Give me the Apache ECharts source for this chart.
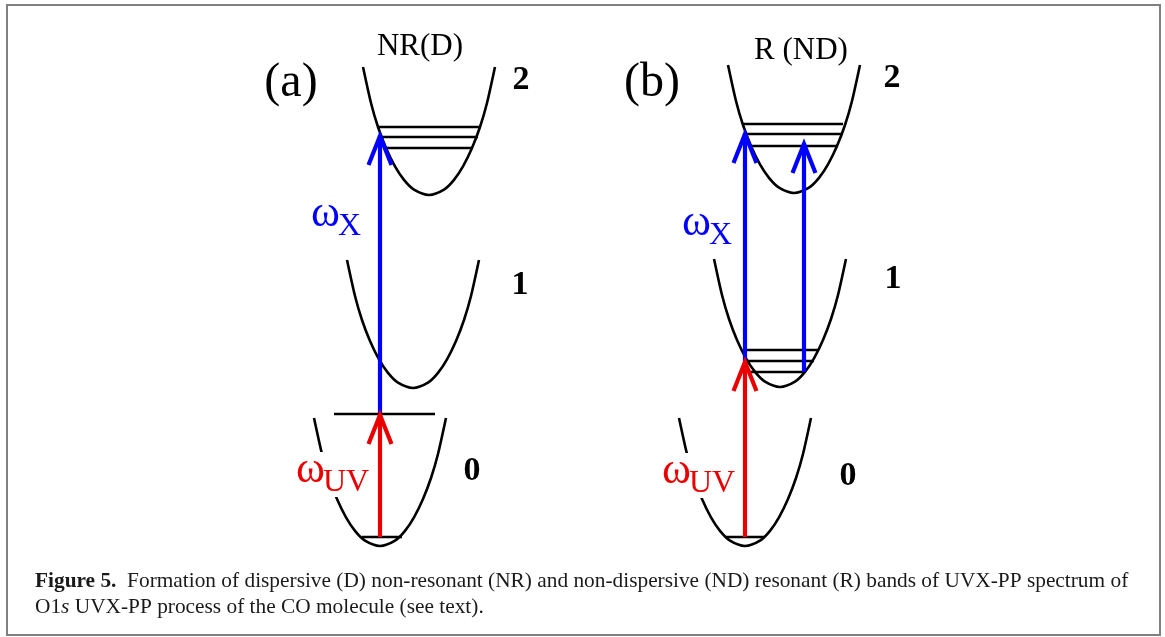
<!DOCTYPE html>
<html>
<head>
<meta charset="utf-8">
<script src="https://cdn.jsdelivr.net/npm/echarts@6/dist/echarts.min.js"></script>
<style>
  html, body { margin: 0; padding: 0; background: #fff; }
  #chart { width: 1165px; height: 637px; }
</style>
</head>
<body>
<div id="chart"></div>
<script>
// Potential-energy wells, as (coordinate, energy) points along each curve.
// Panel (a): states 2, 1, 0
const wellA2 = [[363,67],[371,103],[378,127],[386,148],[395,166.4],[404,179.9],[414,189.7],[429,195],[444,189.7],[454,179.9],[463,166.4],[472,148],[480,127],[487,103],[495,67]];
const wellA1 = [[347,260],[355,296],[362,320],[370,341],[379,359.4],[388,372.9],[398,382.7],[413,388],[428,382.7],[438,372.9],[447,359.4],[456,341],[464,320],[471,296],[479,260]];
const wellA0 = [[314,418],[322,454],[329,478],[337,499],[346,517.4],[355,530.9],[365,540.7],[380,546],[395,540.7],[405,530.9],[414,517.4],[423,499],[431,478],[438,454],[446,418]];
// Panel (b): states 2, 1, 0
const wellB2 = [[728,65],[736,101],[743,125],[751,146],[760,164.4],[769,177.9],[779,187.7],[794,193],[809,187.7],[819,177.9],[828,164.4],[837,146],[845,125],[852,101],[860,65]];
const wellB1 = [[714,259],[722,295],[729,319],[737,340],[746,358.4],[755,371.9],[765,381.7],[780,387],[795,381.7],[805,371.9],[814,358.4],[823,340],[831,319],[838,295],[846,259]];
const wellB0 = [[679,418],[687,454],[694,478],[702,499],[711,517.4],[720,530.9],[730,540.7],[745,546],[760,540.7],[770,530.9],[779,517.4],[788,499],[796,478],[803,454],[811,418]];

// Vibrational levels: [x start, x end, energy]
const levels = [
  [378,480,127],[381,478,137],[386,473,148],
  [334,435,414],[362,402,537],
  [743,843,124],[745,841,134],[751,838,146],
  [745,818,350],[745,814,361],[750,804,372],
  [725,765,537]
];

// Transitions: [x, energy from, energy to]
const xrayArrows = [[380,413,135],[745,361,133],[804,372,143]];
const uvArrows = [[380,537,414],[745,537,361]];

// Panel tags and process names
const panelTags = ['(a)', '(b)'];
const panelTagAt = [[291,83],[652,83]];
const processNames = ['NR(D)', 'R (ND)'];
const processNameAt = [[420,47],[801,51]];
// State numbers
const stateNames = ['2', '1', '0', '2', '1', '0'];
const stateNameAt = [[521,80],[520,285],[472,471],[892,78],[893,279],[848,476]];
// Photon labels: omega with subscript
const photonSubs = ['X', 'UV', 'X', 'UV'];
const photonAt = [[311,214],[296,470],[682,223],[662,471]];

const BLUE = '#0000ff';
const RED = '#ea0000';
const photonColor = [BLUE, RED, BLUE, RED];
const SERIF = '"Liberation Serif", "DejaVu Serif", serif';
const CAPTION_SIZE = 21.35;

const chart = echarts.init(document.getElementById('chart'), null, { renderer: 'canvas' });

// A well drawn as a Catmull-Rom spline through its points
function wellSeries(points) {
  return {
    type: 'custom', z: 2, silent: true,
    data: points,
    encode: { x: 0, y: 1 },
    renderItem: function (params, api) {
      if (params.dataIndex !== 0) return null;
      const p = points.map(function (d) { return api.coord(d); });
      const n = p.length;
      let d = 'M' + p[0][0] + ' ' + p[0][1];
      for (let i = 0; i < n - 1; i++) {
        const p0 = p[Math.max(i - 1, 0)], p1 = p[i], p2 = p[i + 1], p3 = p[Math.min(i + 2, n - 1)];
        const c1x = p1[0] + (p2[0] - p0[0]) / 6, c1y = p1[1] + (p2[1] - p0[1]) / 6;
        const c2x = p2[0] - (p3[0] - p1[0]) / 6, c2y = p2[1] - (p3[1] - p1[1]) / 6;
        d += ' C' + c1x + ' ' + c1y + ' ' + c2x + ' ' + c2y + ' ' + p2[0] + ' ' + p2[1];
      }
      return { type: 'path', shape: { pathData: d },
        style: { stroke: '#000', fill: null, lineWidth: 2.6 } };
    }
  };
}

function arrowSeries(data, color) {
  return {
    type: 'custom', z: 5, silent: true,
    data: data,
    encode: { x: 0, y: [1, 2] },
    renderItem: function (params, api) {
      const x = api.value(0);
      const from = api.coord([x, api.value(1)]);
      const tip = api.coord([x, api.value(2)]);
      return {
        type: 'group',
        children: [
          { type: 'line', shape: { x1: from[0], y1: from[1], x2: tip[0], y2: tip[1] },
            style: { stroke: color, lineWidth: 4.2 } },
          { type: 'polyline',
            shape: { points: [[tip[0] - 11.5, tip[1] + 30], [tip[0], tip[1] + 1], [tip[0] + 11.5, tip[1] + 30]] },
            style: { stroke: color, fill: null, lineWidth: 4.2, lineJoin: 'miter' } }
        ]
      };
    }
  };
}

function textSeries(points, render, z) {
  return {
    type: 'custom', z: z, silent: true,
    data: points,
    encode: { x: 0, y: 1 },
    renderItem: function (params, api) {
      const p = api.coord([api.value(0), api.value(1)]);
      return render(params.dataIndex, p);
    }
  };
}

function captionStyle(extra) {
  return Object.assign({ fontFamily: SERIF, fontSize: CAPTION_SIZE, fontWeight: 'normal',
    color: '#1a1a1a', lineHeight: 26 }, extra || {});
}

const option = {
  animation: false,
  backgroundColor: '#fff',
  grid: { left: 0, right: 0, top: 0, bottom: 0 },
  xAxis: { type: 'value', min: 0, max: 1165, show: false },
  yAxis: { type: 'value', min: 0, max: 637, inverse: true, show: false },
  title: {
    left: 30, top: 563,
    text: '{b|Figure 5.}  {n|Formation of dispersive (D) non-resonant (NR) and non-dispersive (ND) resonant (R) bands of UVX-PP spectrum of}\n{n|O1}{i|s}{n| UVX-PP process of the CO molecule (see text).}',
    textStyle: Object.assign(captionStyle(), {
      rich: {
        b: captionStyle({ fontWeight: 'bold' }),
        n: captionStyle(),
        i: captionStyle({ fontStyle: 'italic' })
      }
    })
  },
  graphic: [{
    type: 'rect', silent: true,
    shape: { x: 7, y: 5, width: 1153, height: 630 },
    style: { fill: null, stroke: '#808080', lineWidth: 2 }
  }],
  series: [
    wellSeries(wellA2), wellSeries(wellA1), wellSeries(wellA0),
    wellSeries(wellB2), wellSeries(wellB1), wellSeries(wellB0),
    {
      type: 'custom', z: 3, silent: true,
      data: levels,
      encode: { x: [0, 1], y: 2 },
      renderItem: function (params, api) {
        const a = api.coord([api.value(0), api.value(2)]);
        const b = api.coord([api.value(1), api.value(2)]);
        return { type: 'line', shape: { x1: a[0], y1: a[1], x2: b[0], y2: b[1] },
          style: { stroke: '#000', lineWidth: 2.6 } };
      }
    },
    arrowSeries(xrayArrows, BLUE),
    arrowSeries(uvArrows, RED),
    textSeries(panelTagAt, function (i, p) {
      return { type: 'text', x: p[0], y: p[1],
        style: { text: panelTags[i], font: '48px ' + SERIF, fill: '#000', align: 'center', verticalAlign: 'middle' } };
    }, 6),
    textSeries(processNameAt, function (i, p) {
      return { type: 'text', x: p[0], y: p[1],
        style: { text: processNames[i], font: '31px ' + SERIF, fill: '#000', align: 'center', verticalAlign: 'middle' } };
    }, 6),
    textSeries(stateNameAt, function (i, p) {
      return { type: 'text', x: p[0], y: p[1],
        style: { text: stateNames[i], font: 'bold 34px ' + SERIF, fill: '#000', align: 'center', verticalAlign: 'middle' } };
    }, 6),
    textSeries(photonAt, function (i, p) {
      const c = photonColor[i];
      const kids = [];
      if (photonSubs[i] === 'UV') {
        // white backing so the label interrupts the well behind it
        kids.push({ type: 'rect', shape: { x: p[0] - 3, y: p[1] - 18, width: 76, height: 45 },
          style: { fill: '#fff' } });
      }
      kids.push({ type: 'text', x: p[0], y: p[1],
        style: { text: 'ω', font: '44px ' + SERIF, fill: c, align: 'left', verticalAlign: 'middle' } });
      kids.push({ type: 'text', x: p[0] + 27, y: p[1] + 13,
        style: { text: photonSubs[i], font: '32px ' + SERIF, fill: c, align: 'left', verticalAlign: 'middle' } });
      return { type: 'group', children: kids };
    }, 7)
  ]
};

chart.setOption(option);
</script>
</body>
</html>
